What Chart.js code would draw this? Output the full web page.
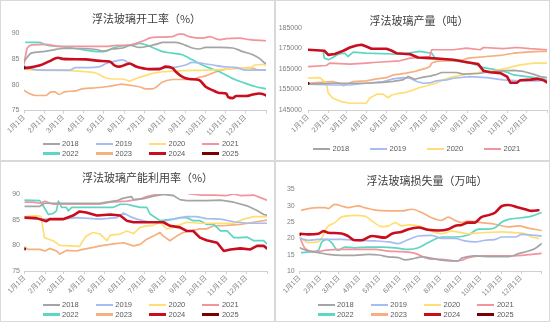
<!DOCTYPE html>
<html>
<head>
<meta charset="utf-8">
<script src="https://cdn.jsdelivr.net/npm/chart.js@4/dist/chart.umd.min.js"></script>
<style>
  html, body { margin: 0; padding: 0; background: #fff; }
  #wrap { position: relative; width: 550px; height: 322px; overflow: hidden; background: #fff; }
  .panel { position: absolute; width: 275px; height: 161px; }
  .panel canvas { position: absolute; left: 0; top: 0; }
  .frame { position: absolute; left: 0; top: 0; right: 0; bottom: 0; border: 1px solid #d9d9d9; pointer-events: none; }
  .ttl { position: absolute; white-space: nowrap; transform: translate(-50%, -50%);
         font-family: "Noto Sans CJK SC", sans-serif; font-size: 11px; color: #404040; }
  .lg { position: absolute; height: 10px; transform: translateY(-50%); white-space: nowrap; }
  .lg i { position: absolute; left: 0; top: 3.8px; width: 17px; height: 2.5px; }
  .lg span { position: absolute; left: 19.5px; top: 0; line-height: 10px;
             font-family: "Liberation Sans", sans-serif; font-size: 7.5px; color: #595959; }
</style>
</head>
<body>
<div id="wrap"></div>
<script>
// ---- categories / ticks ----
const years = ['2018', '2019', '2020', '2021', '2022', '2023', '2024', '2025'];
const monthStarts = [0, 31, 59, 90, 120, 151, 181, 212, 243, 273, 304, 334, 365];
const monthLabels = ['1月1日', '2月1日', '3月1日', '4月1日', '5月1日', '6月1日',
                     '7月1日', '8月1日', '9月1日', '10月1日', '11月1日', '12月1日', ''];
const titles = ['浮法玻璃开工率（%）', '浮法玻璃产量（吨）', '浮法玻璃产能利用率（%）', '浮法玻璃损失量（万吨）'];
const rateTicks = [75, 80, 85, 90];
const outputTicks = [145000, 155000, 165000, 175000, 185000];
const lossTicks = [10, 15, 20, 25, 30, 35];

// ---- 开工率 (%) : [day of year, value] ----
const op2018 = [[0,84.5],[11,86.1],[28,86.4],[43,86.7],[58,87.0],[88,87.0],[109,86.8],[119,86.5],[134,86.9],[149,87.1],[161,87.6],[174,87.2],[189,87.5],[204,88.0],[209,88.2],[229,88.2],[244,87.6],[254,87.1],[264,86.9],[274,87.2],[295,87.2],[315,87.1],[330,86.4],[345,85.8],[355,85.1],[362,84.3],[365,84.1]];
const op2019 = [[0,83.7],[3,83.5],[13,83.0],[23,82.8],[68,82.8],[78,83.3],[93,83.3],[114,83.5],[124,84.1],[139,84.6],[149,84.8],[159,84.1],[169,83.5],[184,83.0],[204,83.2],[224,83.3],[244,83.8],[254,84.3],[270,84.1],[285,83.8],[300,83.5],[320,83.3],[335,82.8],[365,82.8]];
const op2020 = [[0,83.2],[3,83.0],[23,82.8],[68,82.7],[93,82.5],[109,82.2],[124,81.3],[134,81.1],[149,81.1],[159,80.7],[169,81.2],[184,81.8],[194,82.2],[209,82.5],[224,82.6],[239,82.7],[274,82.8],[305,83.0],[320,83.3],[340,83.2],[348,83.8],[360,83.9],[365,83.8]];
const op2021 = [[0,84.0],[5,87.1],[13,87.7],[33,87.8],[53,87.4],[124,87.4],[139,87.6],[154,87.6],[169,88.0],[184,88.7],[189,89.0],[204,89.2],[224,89.3],[234,89.8],[239,89.8],[249,89.3],[270,89.0],[280,89.3],[295,88.7],[305,88.9],[325,89.0],[340,88.7],[365,88.5]];
const op2022 = [[3,88.2],[23,88.2],[33,87.7],[53,87.4],[73,87.1],[93,86.7],[114,86.4],[124,86.5],[134,87.1],[154,87.6],[169,87.8],[174,88.0],[184,87.7],[194,87.2],[209,86.4],[224,86.1],[239,85.8],[254,84.8],[274,83.5],[295,82.5],[310,81.5],[320,80.9],[335,80.2],[350,79.6],[365,79.2]];
const op2023 = [[0,78.9],[8,78.3],[18,77.9],[33,77.9],[41,78.6],[46,78.6],[53,78.1],[61,78.6],[78,78.8],[88,79.2],[109,79.4],[124,79.6],[139,79.9],[146,80.1],[159,79.9],[174,79.6],[184,79.2],[194,79.2],[209,80.5],[224,81.0],[254,81.0],[264,81.4],[274,81.7],[290,82.5],[305,83.0],[325,83.2],[340,83.3],[355,82.8],[365,82.8]];
const op2024 = [[0,83.2],[8,83.3],[23,83.7],[38,84.5],[51,85.2],[58,85.0],[93,84.9],[114,84.6],[129,84.5],[137,83.7],[144,83.5],[154,83.9],[159,84.1],[169,83.5],[179,83.2],[189,83.0],[204,83.0],[214,83.5],[224,83.2],[229,82.5],[239,81.5],[249,81.1],[264,80.9],[274,79.6],[285,78.9],[295,78.4],[305,78.3],[308,77.6],[315,77.4],[320,77.8],[335,77.8],[345,78.1],[355,78.3],[360,78.2],[365,77.9]];
const op2025 = [[0,83.3]];

// ---- 产量 (吨) ----
const out2018 = [[0,157600],[38,158050],[89,158050],[115,158500],[130,159000],[145,159700],[153,161300],[163,160000],[176,161000],[186,161500],[194,162100],[204,163300],[227,163300],[237,162500],[260,162800],[273,163400],[293,164100],[314,164300],[329,163800],[344,162500],[355,161300],[365,160800]];
const out2019 = [[0,157600],[38,157200],[64,157200],[89,158050],[115,158900],[130,160200],[145,160800],[156,160500],[166,158900],[176,158050],[186,158200],[196,159200],[212,159700],[222,160500],[247,161300],[273,160800],[298,159700],[324,159200],[350,159200],[365,159700]];
const out2020 = [[0,160500],[18,160800],[28,158050],[31,153200],[38,150700],[51,149100],[64,148300],[89,148300],[94,150700],[105,152700],[115,152700],[122,151000],[128,152300],[140,153200],[150,153600],[161,154800],[171,156000],[186,157200],[196,158050],[202,159200],[222,161300],[242,162500],[263,163400],[283,164100],[304,165400],[324,167000],[345,167900],[365,167900]];
const out2021 = [[0,166200],[28,166700],[33,167900],[64,167400],[89,167900],[105,168300],[140,169000],[156,170300],[176,170600],[186,171100],[189,174400],[222,174400],[242,175200],[263,174400],[268,175500],[298,174900],[319,175500],[339,174900],[365,174400]];
const out2022 = [[0,174400],[23,173900],[25,170300],[31,169500],[38,170600],[46,172200],[56,172700],[61,171100],[69,173200],[89,172700],[140,172200],[171,173600],[189,172700],[194,170300],[212,169500],[227,169000],[247,167900],[268,165700],[288,164600],[304,163400],[314,162100],[334,161300],[354,160500],[365,159700]];
const out2023 = [[0,158050],[18,158500],[38,158900],[48,158050],[54,156900],[59,157600],[69,158900],[89,159200],[105,160200],[120,160800],[130,162100],[140,162500],[150,163000],[163,163800],[171,164600],[181,165400],[186,166200],[189,167900],[196,168700],[207,169000],[222,169000],[237,169500],[245,170300],[273,171100],[293,171600],[314,172700],[334,173200],[354,173600],[365,173600]];
const out2024 = [[0,174400],[25,173900],[31,171900],[41,172300],[54,173900],[64,175500],[74,176500],[82,176800],[89,176000],[97,174900],[120,174900],[128,173900],[135,172700],[156,172200],[168,170600],[186,170300],[202,170000],[222,169500],[243,168300],[260,167400],[268,164100],[278,163400],[294,163000],[304,161300],[309,158300],[319,158300],[324,159500],[340,159800],[350,160200],[360,159500],[365,158500]];
const out2025 = [[0,158000]];

// ---- 产能利用率 (%) ----
const cap2018 = [[0,87.6],[23,87.6],[30,88.2],[113,88.2],[124,88.4],[139,88.7],[149,89.2],[161,89.5],[164,88.9],[179,89.1],[194,89.6],[209,89.9],[224,89.7],[234,88.9],[244,88.7],[274,88.7],[295,88.8],[315,88.4],[335,87.7],[350,86.8],[360,86.0],[365,85.9]];
const cap2019 = [[0,85.4],[18,85.1],[58,85.1],[78,85.4],[114,85.1],[139,85.4],[149,86.3],[159,85.6],[169,85.1],[189,84.5],[204,84.5],[224,85.1],[244,85.6],[259,85.6],[274,85.2],[295,85.1],[315,84.6],[335,84.3],[365,84.3]];
const cap2020 = [[0,85.6],[18,85.8],[25,85.6],[30,81.5],[43,80.9],[53,80.0],[83,79.8],[86,80.5],[93,81.8],[103,82.5],[114,82.2],[124,80.9],[129,82.0],[144,82.2],[154,82.8],[164,82.3],[174,83.5],[184,83.8],[194,83.9],[204,84.5],[214,83.2],[224,83.5],[244,84.5],[264,84.3],[315,84.3],[330,85.1],[345,85.6],[365,85.6]];
const cap2021 = [[0,88.4],[13,88.4],[23,88.2],[31,88.6],[43,88.0],[113,88.0],[129,88.4],[154,88.6],[174,89.0],[184,89.5],[194,89.8],[214,90.0],[224,90.1],[239,90.5],[249,90.0],[264,89.8],[285,89.8],[305,89.7],[315,90.0],[325,89.7],[345,89.8],[355,89.3],[365,88.8]];
const cap2022 = [[0,88.8],[23,88.7],[28,87.7],[36,86.0],[43,86.2],[48,86.7],[51,88.6],[56,87.4],[63,87.4],[66,86.7],[71,87.4],[134,87.4],[144,88.0],[154,88.0],[164,87.7],[174,87.4],[184,87.4],[189,86.1],[204,84.8],[224,85.1],[234,85.4],[244,85.4],[254,84.8],[264,84.8],[274,84.1],[285,84.1],[295,82.8],[305,82.8],[315,81.5],[325,81.5],[335,81.6],[345,80.9],[360,80.9],[365,80.3]];
const cap2023 = [[0,79.7],[5,79.2],[23,79.2],[31,78.9],[38,79.4],[48,78.9],[53,78.3],[63,79.0],[78,78.9],[88,79.2],[104,79.6],[114,79.9],[124,80.1],[134,80.3],[149,80.5],[164,79.9],[174,80.2],[184,81.2],[194,81.8],[204,82.5],[209,81.8],[219,80.9],[229,81.8],[239,82.5],[249,82.8],[264,83.2],[274,83.2],[285,83.8],[305,83.9],[325,84.1],[345,84.5],[365,84.9]];
const cap2024 = [[0,85.4],[18,85.3],[33,84.7],[38,85.1],[58,85.1],[73,85.8],[83,86.6],[93,86.4],[109,85.8],[129,86.0],[144,85.8],[154,84.8],[164,84.5],[209,84.5],[219,83.8],[234,83.5],[244,82.8],[254,82.8],[264,81.5],[274,81.0],[290,80.5],[300,78.9],[310,79.2],[325,79.4],[340,79.2],[350,79.9],[360,79.9],[365,79.4]];
const cap2025 = [[0,79.3]];

// ---- 损失量 (万吨) ----
const loss2018 = [[0,17.1],[13,16.1],[28,15.6],[43,15.1],[63,14.8],[83,14.8],[104,15.1],[119,14.9],[134,14.3],[149,14.1],[159,13.4],[174,13.9],[184,14.3],[199,13.9],[214,13.3],[229,13.1],[239,13.1],[244,13.9],[254,14.4],[264,14.6],[290,14.4],[315,14.4],[330,15.3],[345,16.1],[355,16.9],[365,18.4]];
const loss2019 = [[0,20.0],[13,19.4],[28,19.7],[63,19.7],[88,19.4],[114,19.2],[134,18.9],[149,18.4],[159,19.2],[169,20.0],[179,20.7],[199,20.9],[214,20.0],[234,20.0],[249,19.2],[264,18.9],[280,19.4],[295,19.7],[305,20.4],[325,20.4],[335,21.2],[350,21.0],[365,20.7]];
const loss2020 = [[0,20.4],[13,18.7],[28,19.0],[33,20.0],[41,23.3],[53,24.8],[63,26.5],[83,27.0],[98,26.8],[109,25.3],[124,23.6],[134,23.8],[144,24.8],[154,23.8],[164,24.1],[179,23.8],[199,22.2],[214,21.4],[229,22.2],[254,21.4],[274,21.7],[305,22.0],[325,21.7],[340,21.4],[350,20.4],[360,20.0]];
const loss2021 = [[0,20.4],[8,16.9],[23,15.9],[38,16.3],[63,16.6],[114,16.6],[134,16.1],[154,15.9],[174,15.4],[189,14.1],[199,13.6],[214,13.6],[234,13.1],[244,13.3],[254,14.1],[274,14.6],[315,14.6],[335,14.8],[350,15.1],[365,15.4]];
const loss2022 = [[3,15.6],[18,15.9],[28,16.3],[33,18.7],[41,19.7],[48,18.7],[58,16.3],[68,17.3],[83,17.1],[104,17.3],[124,17.3],[144,17.1],[164,16.6],[179,17.1],[194,18.7],[204,19.7],[214,20.4],[234,20.4],[254,21.0],[270,22.8],[285,22.8],[295,23.3],[305,25.0],[315,25.8],[335,26.3],[350,26.8],[365,27.9]];
const loss2023 = [[3,28.6],[13,29.1],[28,29.4],[38,29.4],[43,29.1],[53,30.4],[63,29.9],[73,29.4],[88,29.9],[98,29.4],[114,28.6],[134,28.4],[154,28.4],[169,28.9],[184,27.9],[199,26.3],[214,25.5],[224,26.5],[234,25.5],[244,24.8],[254,25.3],[274,24.8],[295,24.3],[315,23.5],[330,23.8],[345,23.1],[365,22.4]];
const loss2024 = [[0,21.4],[13,21.2],[28,21.4],[36,22.2],[43,21.7],[63,21.5],[73,20.7],[83,19.4],[93,19.4],[109,20.7],[129,20.2],[139,21.4],[154,22.0],[164,22.8],[179,23.3],[194,22.6],[209,22.4],[224,22.8],[234,23.8],[244,24.1],[254,24.8],[264,24.8],[274,26.5],[285,27.1],[295,27.9],[305,29.9],[315,30.2],[330,29.4],[340,28.9],[350,28.4],[360,28.6]];
const loss2025 = [[0,21.2]];

// ---- styling ----
const colors = ['#a5a5a5', '#a7bcef', '#ffdf75', '#f3939c', '#5dd6c3', '#f6af7e', '#c90d1f', '#7a0000'];
const tickColor = '#808080';
const numFont = '"Liberation Sans", "Noto Sans CJK SC", sans-serif';

// panel layout: plot-area box, title centre, legend grid
const panels = [
  { left: 0,   top: 0,   title: titles[0], ticks: rateTicks,
    series: [op2018, op2019, op2020, op2021, op2022, op2023, op2024, op2025],
    area: { l: 24, r: 266, t: 33, b: 110.5 }, titleAt: [146.5, 18.3], yPad: 4.5, tension: 0.25,
    legend: { x: 42.5, dx: 53.3, rows: [144, 153.5], count: 8 } },
  { left: 275, top: 0,   title: titles[1], ticks: outputTicks,
    series: [out2018, out2019, out2020, out2021, out2022, out2023, out2024, out2025],
    area: { l: 33, r: 272, t: 28, b: 110 }, titleAt: [144, 20], yPad: 6, tension: 0,
    legend: { x: 38, dx: 57, rows: [149], count: 4 } },
  { left: 0,   top: 161, title: titles[2], ticks: rateTicks,
    series: [cap2018, cap2019, cap2020, cap2021, cap2022, cap2023, cap2024, cap2025],
    area: { l: 24.5, r: 267, t: 33, b: 110 }, titleAt: [147.5, 16], yPad: 4.5, tension: 0,
    legend: { x: 42.5, dx: 53.3, rows: [144, 153.5], count: 8 } },
  { left: 275, top: 161, title: titles[3], ticks: lossTicks,
    series: [loss2018, loss2019, loss2020, loss2021, loss2022, loss2023, loss2024, loss2025],
    area: { l: 24.7, r: 266.7, t: 28.3, b: 110 }, titleAt: [152, 19.3], yPad: 5, tension: 0.25,
    legend: { x: 42.5, dx: 53.3, rows: [144, 153.5], count: 8 } }
];

const wrap = document.getElementById('wrap');

panels.forEach(p => {
  const box = document.createElement('div');
  box.className = 'panel';
  box.style.left = p.left + 'px';
  box.style.top = p.top + 'px';
  wrap.appendChild(box);

  const cv = document.createElement('canvas');
  cv.width = 275; cv.height = 161;
  cv.style.width = '275px'; cv.style.height = '161px';
  box.appendChild(cv);

  const t = document.createElement('div');
  t.className = 'ttl';
  t.textContent = p.title;
  t.style.left = p.titleAt[0] + 'px';
  t.style.top = p.titleAt[1] + 'px';
  box.appendChild(t);

  for (let i = 0; i < p.legend.count; i++) {
    const row = Math.floor(i / 4), col = i % 4;
    const item = document.createElement('div');
    item.className = 'lg';
    item.style.left = (p.legend.x + col * p.legend.dx) + 'px';
    item.style.top = p.legend.rows[row] + 'px';
    const mark = document.createElement('i');
    mark.style.background = colors[i];
    const txt = document.createElement('span');
    txt.textContent = years[i];
    item.appendChild(mark);
    item.appendChild(txt);
    box.appendChild(item);
  }

  const frame = document.createElement('div');
  frame.className = 'frame';
  box.appendChild(frame);

  const a = p.area;
  new Chart(cv, {
    type: 'line',
    data: {
      datasets: p.series.map((d, i) => ({
        label: years[i],
        data: d,
        borderColor: colors[i],
        backgroundColor: colors[i],
        borderWidth: i === 6 ? 2.6 : 1.7,
        pointRadius: d.length === 1 ? 1.6 : 0,
        pointBorderWidth: 0,
        pointHoverRadius: 0,
        tension: p.tension,
        cubicInterpolationMode: p.tension ? 'monotone' : 'default',
        borderJoinStyle: 'round',
        borderCapStyle: 'round',
        order: i === 6 ? -1 : (i === 7 ? -2 : i)
      }))
    },
    options: {
      responsive: false,
      devicePixelRatio: 1,
      animation: false,
      events: [],
      layout: { padding: { left: 0, top: a.t, right: 275 - a.r, bottom: 0 } },
      plugins: { legend: { display: false }, title: { display: false }, tooltip: { enabled: false } },
      scales: {
        x: {
          type: 'linear',
          min: 0, max: 365,
          afterBuildTicks: s => { s.ticks = monthStarts.map(v => ({ value: v })); },
          afterFit: s => { s.height = 161 - a.b; s.paddingLeft = 0; s.paddingRight = 0; },
          ticks: {
            autoSkip: false, minRotation: 45, maxRotation: 45, padding: 0,
            color: tickColor, font: { family: numFont, size: 7 },
            callback: (v, i) => monthLabels[i]
          },
          grid: { drawOnChartArea: false, drawTicks: true, tickLength: 3, color: '#d0d0d0', lineWidth: 1 },
          border: { display: true, color: '#d0d0d0', width: 1 }
        },
        y: {
          min: p.ticks[0], max: p.ticks[p.ticks.length - 1],
          afterBuildTicks: s => { s.ticks = p.ticks.map(v => ({ value: v })); },
          afterFit: s => { s.width = a.l; s.paddingTop = 0; s.paddingBottom = 0; },
          ticks: { color: tickColor, font: { family: numFont, size: 7 }, padding: p.yPad,
                   callback: v => String(v) },
          grid: { display: false, drawTicks: false },
          border: { display: false }
        }
      }
    }
  });
});
</script>
</body>
</html>
